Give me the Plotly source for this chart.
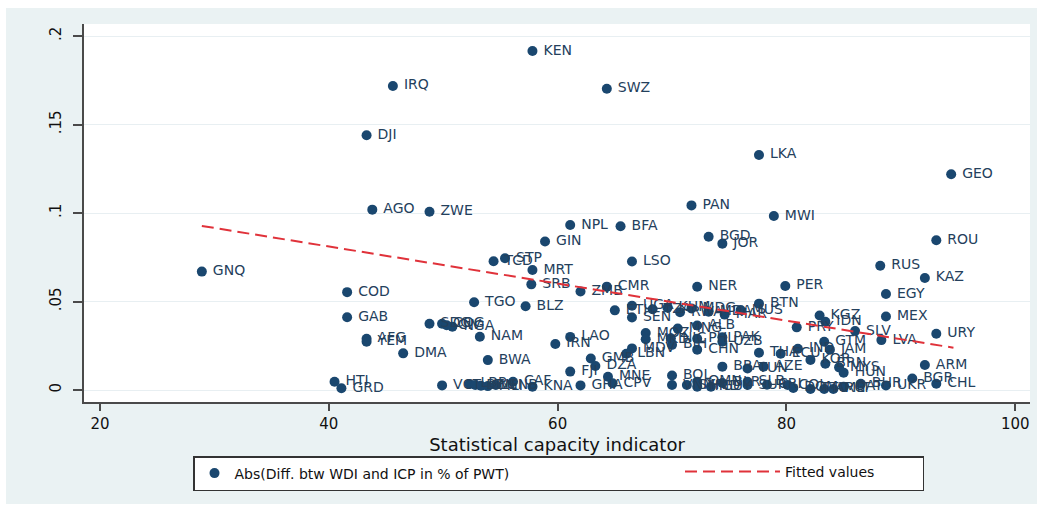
import plotly.graph_objects as go

# ---- data ----
codes = ["KEN", "IRQ", "SWZ", "DJI", "LKA", "GEO", "AGO", "ZWE", "PAN", "MWI",
         "NPL", "BFA", "GIN", "BGD", "JOR", "ROU", "STP", "TCD", "MRT", "LSO",
         "GNQ", "RUS", "KAZ", "SRB", "CMR", "ZMB", "NER", "PER", "EGY", "COD",
         "TGO", "BLZ", "GAB", "BTN", "KGZ", "MEX", "IDN", "PRY", "SLV", "URY",
         "LVA", "GTM", "AFG", "YEM", "DMA", "NAM", "BWA", "SDG", "COG", "CIV",
         "NGA", "HTI", "GRD", "VCT", "LBR", "BEN", "SLE", "MLI", "GNB", "CAF",
         "KNA", "GHA", "LAO", "IRN", "GMB", "DZA", "FJI", "MNE", "CPV", "UGA",
         "ETH", "SEN", "TZA", "KHM", "RWA", "MDG", "MDA", "MAR", "MUS", "ALB",
         "MNG", "MOZ", "MKD", "NIC", "BIH", "PHL", "PAK", "UZB", "CHN", "MDV",
         "LBN", "THA", "ECU", "IND", "JAM", "BRA", "TUN", "AZE", "KOR", "BRN",
         "MYS", "HUN", "ARM", "BGR", "CHL", "UKR", "BOL", "VNM", "SYR", "OMN",
         "HND", "GUY", "BLR", "SLB", "SUR", "CRI", "COL", "DOM", "TTO", "ARG",
         "MLT", "QAT", "BHR"]
capacity = [57.8, 45.6, 64.3, 43.3, 77.6, 94.4, 43.8, 48.8, 71.7, 78.9,
            61.1, 65.5, 58.9, 73.2, 74.4, 93.1, 55.4, 54.4, 57.8, 66.5,
            28.9, 88.2, 92.1, 57.7, 64.3, 62.0, 72.2, 79.9, 88.7, 41.6,
            52.7, 57.2, 41.6, 77.6, 82.9, 88.7, 83.4, 80.9, 86.0, 93.1,
            88.3, 83.3, 43.3, 43.3, 46.5, 53.2, 53.9, 48.8, 49.9, 50.3,
            50.8, 40.5, 41.1, 49.9, 52.3, 52.8, 53.3, 53.9, 54.6, 56.1,
            57.8, 62.0, 61.1, 59.8, 62.9, 63.3, 61.1, 64.4, 64.8, 66.5,
            65.0, 66.5, 68.3, 69.6, 70.7, 71.7, 73.2, 74.6, 76.0, 72.2,
            70.5, 67.7, 67.7, 69.9, 70.0, 72.2, 74.4, 74.4, 72.2, 66.5,
            66.0, 77.6, 79.5, 81.0, 83.8, 74.4, 76.6, 78.0, 82.1, 83.4,
            84.6, 85.0, 92.1, 91.0, 93.1, 88.7, 70.0, 70.0, 71.3, 72.2,
            72.2, 73.4, 74.4, 76.6, 76.6, 78.3, 80.1, 80.6, 82.1, 83.3,
            84.1, 85.0, 86.5]
absdiff = [0.1915, 0.1718, 0.1702, 0.1439, 0.1328, 0.1219, 0.1019, 0.1007, 0.1043, 0.0983,
           0.0932, 0.0925, 0.0839, 0.0866, 0.0827, 0.0846, 0.0744, 0.0727, 0.0678, 0.0726,
           0.0669, 0.0702, 0.0633, 0.0597, 0.0584, 0.0557, 0.0583, 0.0588, 0.0542, 0.0553,
           0.0496, 0.0473, 0.0411, 0.0488, 0.0421, 0.0415, 0.0386, 0.0354, 0.0333, 0.0318,
           0.0282, 0.0273, 0.0290, 0.0273, 0.0207, 0.0301, 0.0169, 0.0374, 0.0374, 0.0366,
           0.0358, 0.0047, 0.0010, 0.0026, 0.0034, 0.0028, 0.0024, 0.0022, 0.0028, 0.0047,
           0.0019, 0.0026, 0.0300, 0.0260, 0.0178, 0.0136, 0.0104, 0.0075, 0.0038, 0.0476,
           0.0450, 0.0410, 0.0456, 0.0465, 0.0440, 0.0461, 0.0442, 0.0426, 0.0452, 0.0364,
           0.0347, 0.0322, 0.0287, 0.0292, 0.0255, 0.0290, 0.0298, 0.0273, 0.0228, 0.0235,
           0.0205, 0.0210, 0.0205, 0.0233, 0.0228, 0.0132, 0.0122, 0.0132, 0.0170, 0.0148,
           0.0128, 0.0098, 0.0141, 0.0065, 0.0035, 0.0025, 0.0082, 0.0028, 0.0028, 0.0047,
           0.0019, 0.0019, 0.0040, 0.0047, 0.0028, 0.0030, 0.0028, 0.0012, 0.0006, 0.0006,
           0.0006, 0.0019, 0.0035]
fit_x = [28.9, 94.6]
fit_y = [0.0927, 0.0239]

x_ticks = [20, 40, 60, 80, 100]
x_ticklabels = ["20", "40", "60", "80", "100"]
y_ticks = [0, 0.05, 0.1, 0.15, 0.2]
y_ticklabels = ["0", ".05", ".1", ".15", ".2"]

# ---- styling ----
NAVY = "#1A476F"
LABEL = "#24405C"
RED = "#E0323A"
OUTER = "#EAF2F3"
AXIS = "#4A4A4A"
FONT = "DejaVu Sans"

W, H = 1044, 508
L, R, T, B = 84, 14, 24, 106
PW, PH = W - L - R, H - T - B


def px(xp):
    return (xp - L) / PW


def py(yp):
    return (H - B - yp) / PH


fig = go.Figure()

fig.add_trace(go.Scatter(
    x=capacity, y=absdiff, mode="markers",
    marker=dict(color=NAVY, size=10),
    name="Abs(Diff. btw WDI and ICP in % of PWT)",
    legend="legend", hoverinfo="skip",
))
# country labels, offset to the right of each marker
fig.add_trace(go.Scatter(
    x=capacity, y=absdiff, mode="markers+text", text=codes,
    textposition="middle right",
    textfont=dict(family=FONT, size=14, color=LABEL),
    marker=dict(color=NAVY, size=16, opacity=0),
    showlegend=False, cliponaxis=False, hoverinfo="skip",
))
fig.add_trace(go.Scatter(
    x=fit_x, y=fit_y, mode="lines",
    line=dict(color=RED, width=2, dash="12px,6px"),
    name="Fitted values", legend="legend2", hoverinfo="skip",
))

# white frame around the light outer region
shapes = []
for (x0, x1, y0, y1) in [(0, 6, 0, H), (1037, W, 0, H), (0, W, 0, 8), (0, W, 504, H)]:
    shapes.append(dict(type="rect", xref="paper", yref="paper",
                       x0=px(x0), x1=px(x1), y0=py(y1), y1=py(y0),
                       fillcolor="white", line=dict(width=0), layer="below"))

fig.update_layout(
    width=W, height=H,
    margin=dict(l=L, r=R, t=T, b=B, autoexpand=False),
    paper_bgcolor=OUTER, plot_bgcolor="white",
    font=dict(family=FONT, color="#111111"),
    shapes=shapes,
    xaxis=dict(
        range=[18.6, 101.29], tickvals=x_ticks, ticktext=x_ticklabels,
        showline=True, linecolor=AXIS, linewidth=1.5,
        ticks="outside", ticklen=7, tickwidth=1.5, tickcolor=AXIS,
        tickfont=dict(size=15, family=FONT, color="#111111"),
        showgrid=False, zeroline=False,
        title=dict(text="Statistical capacity indicator",
                   font=dict(size=18, family=FONT, color="#111111"), standoff=7),
    ),
    yaxis=dict(
        range=[-0.00678, 0.2068], tickvals=y_ticks, ticktext=y_ticklabels,
        showline=True, linecolor=AXIS, linewidth=1.5,
        ticks="outside", ticklen=9, tickwidth=1.5, tickcolor=AXIS,
        tickangle=-90, ticklabelstandoff=6,
        tickfont=dict(size=15, family=FONT, color="#111111"),
        showgrid=True, gridcolor="#E8EFF2", gridwidth=1, zeroline=False,
    ),
    legend=dict(
        orientation="h", x=px(193), y=py(456), xanchor="left", yanchor="top",
        bgcolor="white", bordercolor="#333333", borderwidth=1.5,
        entrywidth=683, font=dict(size=14, family=FONT, color="#111111"),
    ),
    legend2=dict(
        orientation="h", x=px(680), y=py(456), xanchor="left", yanchor="top",
        bgcolor="rgba(0,0,0,0)", borderwidth=0, itemwidth=95,
        font=dict(size=14, family=FONT, color="#111111"),
    ),
)

fig.write_html("out.html", config={"displayModeBar": False},
               post_script="document.body.style.margin='0';")
